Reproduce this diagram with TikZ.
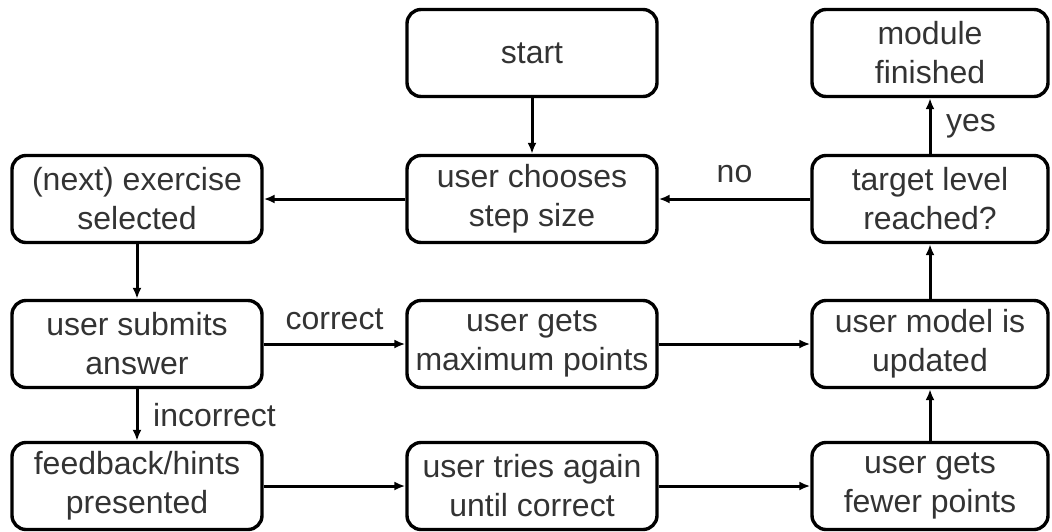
\documentclass[tikz,border=0pt]{standalone}
\usepackage{fontspec}
\setmainfont{Liberation Sans}
\usetikzlibrary{arrows.meta}

\tikzset{
  stepbox/.style={draw, line width=1.7pt, rounded corners=7pt,
    minimum width=125pt, minimum height=43.5pt, inner sep=0pt,
    align=center, text=black!80, font=\fontsize{16}{19.5}\selectfont},
  narrowbox/.style={stepbox, minimum width=118pt},
  flow/.style={line width=1.5pt, -{Latex[length=5.5pt,width=4.5pt]}},
  lbl/.style={text=black!80, font=\fontsize{16}{19.5}\selectfont}
}

\begin{document}
\begin{tikzpicture}[x=0.5pt,y=-0.5pt]
\useasboundingbox (0,0) rectangle (1052,531);
% boxes
\node[stepbox] (start) at (532,53) {start};
\node[narrowbox] (finished) at (930,53) {module\\finished};
\node[stepbox] (selected) at (137,199) {(next) exercise\\selected};
\node[stepbox] (chooses) at (532,199) {user chooses\\step size};
\node[narrowbox] (target) at (930,199) {target level\\reached?};
\node[stepbox] (submits) at (137,344) {user submits\\answer};
\node[stepbox] (maxpts) at (532,344) {user gets\\maximum points};
\node[narrowbox] (updated) at (930,344) {user model is\\updated};
\node[stepbox] (feedback) at (137,486) {feedback/hints\\presented};
\node[stepbox] (again) at (532,486) {user tries again\\until correct};
\node[narrowbox] (fewer) at (930,486) {user gets\\fewer points};
% arrows
\draw[flow] (start) -- (chooses);
\draw[flow] (target) -- node[lbl,above=4pt] {no} (chooses);
\draw[flow] (chooses) -- (selected);
\draw[flow] (selected) -- (submits);
\draw[flow] (submits) -- node[lbl,above=3pt] {correct} (maxpts);
\draw[flow] (submits) -- node[lbl,right=4pt] {incorrect} (feedback);
\draw[flow] (feedback) -- (again);
\draw[flow] (again) -- (fewer);
\draw[flow] (maxpts) -- (updated);
\draw[flow] (fewer) -- (updated);
\draw[flow] (updated) -- (target);
\draw[flow] (target) -- node[lbl,right=4pt] {yes} (finished);
\end{tikzpicture}
\end{document}
